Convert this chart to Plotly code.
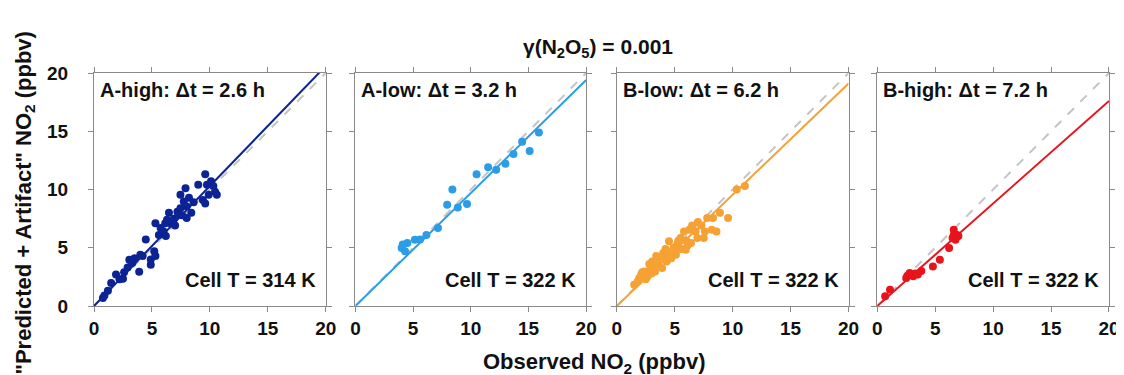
import plotly.graph_objects as go

# ---------------- data ----------------
panel_labels = ["A-high: \u0394t = 2.6 h", "A-low: \u0394t = 3.2 h", "B-low: \u0394t = 6.2 h", "B-high: \u0394t = 7.2 h"]
cell_temps = ["Cell T = 314 K", "Cell T = 322 K", "Cell T = 322 K", "Cell T = 322 K"]
colors = ["#0b2394", "#2b9de6", "#f6a134", "#e8141b"]
fit_slopes = [1.03, 0.97, 0.955, 0.88]
axis_ticks = [0, 5, 10, 15, 20]

a_high_x = [0.77, 0.9, 1.48, 1.9, 2.6, 2.5, 3.05, 2.9, 3.5, 3.9, 4.0, 4.47, 4.9, 4.9, 5.2, 5.3, 5.3, 5.75,
            6.0, 6.15, 6.3, 6.47, 6.6, 6.9, 7.0, 7.2, 7.46, 7.6, 7.75, 7.9, 8.0, 8.0, 8.2, 7.46, 9.0, 9.6,
            9.75, 9.9, 9.4, 9.6, 10.3, 10.45, 10.6, 10.1, 3.3, 4.2, 5.6, 6.8, 7.3, 8.4, 8.6, 2.2, 1.2, 6.2]
a_high_y = [0.69, 0.9, 1.97, 2.7, 2.9, 2.34, 3.97, 3.3, 4.1, 2.95, 4.4, 5.7, 4.0, 3.55, 4.7, 4.3, 7.1, 6.7,
            6.4, 7.1, 7.4, 8.0, 7.1, 7.5, 6.9, 8.1, 8.4, 7.8, 8.96, 10.1, 8.55, 7.55, 9.3, 9.55, 10.4, 11.3,
            10.4, 9.55, 9.1, 8.8, 10.3, 9.8, 9.55, 10.7, 3.7, 4.3, 6.1, 7.3, 7.9, 8.0, 8.9, 2.3, 1.3, 6.0]

a_low_x = [4.0, 4.1, 4.3, 4.5, 5.15, 5.6, 6.15, 7.15, 7.95, 8.4, 8.87, 9.67, 10.5, 11.5, 12.2, 13.0, 13.7,
           14.45, 15.1, 15.9]
a_low_y = [4.98, 5.27, 4.69, 5.4, 5.69, 5.7, 6.1, 6.7, 8.7, 10.0, 8.46, 8.75, 11.3, 11.9, 11.7, 12.2, 13.05,
           14.1, 13.3, 14.9]

b_low_x = [1.5, 1.94, 2.37, 2.65, 2.9, 3.05, 3.3, 3.6, 3.9, 4.0, 4.3, 4.5, 4.8, 5.1, 5.2, 5.5, 5.8, 5.95,
           6.25, 6.8, 6.95, 7.6, 7.5, 7.8, 8.2, 8.6, 8.3, 8.9, 9.6, 10.35, 11.05, 2.1, 2.5, 2.8, 3.2, 3.5,
           3.8, 4.1, 4.6, 4.9, 5.3, 5.6, 6.0, 6.4, 6.5, 7.0, 7.3, 1.8, 2.2, 3.0, 3.4, 4.2, 4.7, 5.4, 6.1]
b_low_y = [1.83, 2.4, 2.97, 2.55, 3.26, 3.83, 2.97, 4.1, 3.26, 4.55, 3.83, 5.55, 4.7, 4.4, 5.26, 5.83, 6.4,
           4.83, 6.55, 6.4, 5.83, 6.4, 5.83, 7.55, 6.55, 6.4, 7.55, 8.0, 7.55, 10.0, 10.3, 2.7, 2.3, 3.6,
           3.4, 3.7, 4.2, 4.2, 4.4, 5.0, 5.6, 4.9, 5.6, 5.4, 6.9, 7.2, 6.9, 2.1, 2.9, 2.8, 4.3, 4.9, 4.1,
           4.9, 5.2]

b_high_x = [0.68, 1.1, 2.5, 2.8, 3.1, 3.5, 3.8, 4.8, 5.4, 6.2, 6.5, 6.6, 6.75, 6.9, 6.6, 2.6, 3.3, 6.8, 7.0]
b_high_y = [0.83, 1.4, 2.4, 2.83, 2.55, 2.7, 3.0, 3.4, 3.97, 4.97, 5.83, 6.1, 5.69, 6.1, 6.55, 2.6, 2.8,
            5.9, 6.0]

series_x = [a_high_x, a_low_x, b_low_x, b_high_x]
series_y = [a_high_y, a_low_y, b_low_y, b_high_y]

# ---------------- figure ----------------
FONT = "Liberation Sans, Arial, sans-serif"
TXT = "#111111"
fig = go.Figure()

domains = [[0.0, 0.2283], [0.2576, 0.4849], [0.5151, 0.7434], [0.7717, 1.0]]
line_x = [0, 20]

for i in range(4):
    xa = "x" if i == 0 else f"x{i+1}"
    ya = "y" if i == 0 else f"y{i+1}"
    # 1:1 line
    fig.add_trace(go.Scatter(x=line_x, y=line_x, mode="lines", xaxis=xa, yaxis=ya,
                             line=dict(color="#c4c4c4", width=2, dash="dash"), showlegend=False,
                             hoverinfo="skip"))
    # data points
    fig.add_trace(go.Scatter(x=series_x[i], y=series_y[i], mode="markers", xaxis=xa, yaxis=ya,
                             marker=dict(color=colors[i], size=8), showlegend=False))
    # fit line
    fig.add_trace(go.Scatter(x=line_x, y=[v * fit_slopes[i] for v in line_x], mode="lines",
                             xaxis=xa, yaxis=ya, line=dict(color=colors[i], width=2),
                             showlegend=False, hoverinfo="skip"))

    axis_common = dict(range=[0, 20], tickvals=axis_ticks, ticks="outside", ticklen=5,
                       tickcolor="#8a8a8a", showline=True, linecolor="#8a8a8a", linewidth=1,
                       mirror="ticks", showgrid=False, zeroline=False,
                       tickfont=dict(family=FONT, size=19, color=TXT, weight="bold"))
    xkey = "xaxis" if i == 0 else f"xaxis{i+1}"
    ykey = "yaxis" if i == 0 else f"yaxis{i+1}"
    fig.update_layout(**{
        xkey: dict(domain=domains[i], anchor=ya, **axis_common),
        ykey: dict(domain=[0, 1], anchor=xa, showticklabels=(i == 0), ticklabelstandoff=16,
                   **axis_common),
    })

    fig.add_annotation(text=panel_labels[i], xref=f"{xa} domain", yref=f"{ya} domain",
                       x=0, xshift=4, y=1, yshift=-4, xanchor="left", yanchor="top", showarrow=False,
                       font=dict(family=FONT, size=20, color=TXT, weight="bold"))
    fig.add_annotation(text=cell_temps[i], xref=f"{xa} domain", yref=f"{ya} domain",
                       x=1, xshift=-8, y=0, yshift=13, xanchor="right", yanchor="bottom", showarrow=False,
                       font=dict(family=FONT, size=20, color=TXT, weight="bold"))

fig.add_annotation(text="\u03b3(N<sub>2</sub>O<sub>5</sub>) = 0.001", xref="paper", yref="paper",
                   x=0.497, y=1.0, yshift=25, xanchor="center", yanchor="middle", showarrow=False,
                   font=dict(family=FONT, size=21, color=TXT, weight="bold"))
fig.add_annotation(text="Observed NO<sub>2</sub> (ppbv)", xref="paper", yref="paper",
                   x=0.493, y=0, yshift=-57, xanchor="center", yanchor="middle", showarrow=False,
                   font=dict(family=FONT, size=22, color=TXT, weight="bold"))
fig.add_annotation(text="\"Predicted + Artifact\" NO<sub>2</sub> (ppbv)", xref="paper", yref="paper",
                   x=0, xshift=-70, y=0.5, yshift=-14, textangle=-90, xanchor="center", yanchor="middle",
                   showarrow=False, font=dict(family=FONT, size=22, color=TXT, weight="bold"))

fig.update_layout(width=1124, height=375, margin=dict(l=86, r=13, t=65, b=77),
                  paper_bgcolor="white", plot_bgcolor="white")

fig.write_html("out.html")
